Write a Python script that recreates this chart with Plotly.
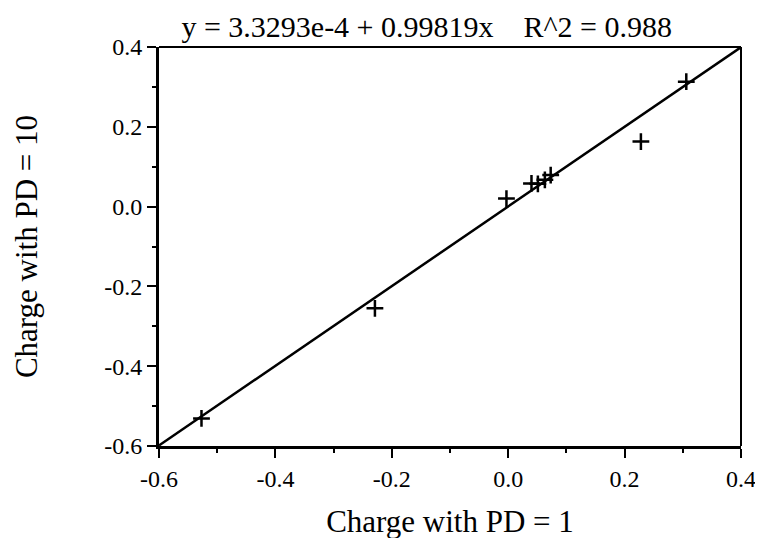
import plotly.graph_objects as go

# Data
x_pd1 = [-0.527, -0.229, -0.003, 0.040, 0.051, 0.063, 0.073, 0.228, 0.306]
y_pd10 = [-0.531, -0.255, 0.020, 0.058, 0.057, 0.067, 0.079, 0.163, 0.313]
fit_intercept = 3.3293e-4
fit_slope = 0.99819
fit_x = [-0.6, 0.4]
fit_y = [fit_intercept + fit_slope * v for v in fit_x]

tick_vals = [-0.6, -0.4, -0.2, 0.0, 0.2, 0.4]
tick_text = ["-0.6", "-0.4", "-0.2", "0.0", "0.2", "0.4"]

title_text = "y = 3.3293e-4 + 0.99819x    R^2 = 0.988"
font_family = "Liberation Serif, Times New Roman, serif"

fig = go.Figure()
fig.add_trace(go.Scatter(x=fit_x, y=fit_y, mode="lines",
                         line=dict(color="black", width=2.5), showlegend=False))
fig.add_trace(go.Scatter(x=x_pd1, y=y_pd10, mode="markers",
                         marker=dict(symbol="cross-thin", size=12,
                                     line=dict(color="black", width=2.5)),
                         showlegend=False))

axis_common = dict(
    range=[-0.6, 0.4], tickmode="array", tickvals=tick_vals, ticktext=tick_text,
    showgrid=False, zeroline=False,
    showline=True, linecolor="black", linewidth=3,
    ticks="outside", ticklen=9, tickwidth=2, tickcolor="black",
    minor=dict(dtick=0.1, tick0=-0.6, ticks="outside", ticklen=4, tickwidth=2, tickcolor="black"),
    tickfont=dict(family=font_family, size=24, color="black"),
)

fig.update_xaxes(**axis_common,
                 title=dict(text="Charge with PD = 1", standoff=20,
                            font=dict(family=font_family, size=31, color="black")))
fig.update_yaxes(**axis_common,
                 title=dict(text="Charge with PD = 10", standoff=58,
                            font=dict(family=font_family, size=31, color="black")))

# thin top and right frame lines
fig.add_shape(type="line", xref="paper", yref="paper", x0=0, x1=1, y0=1, y1=1,
              line=dict(color="black", width=2))
fig.add_shape(type="line", xref="paper", yref="paper", x0=1, x1=1, y0=0, y1=1,
              line=dict(color="black", width=2))

fig.update_layout(
    width=763, height=538,
    margin=dict(l=151, r=30, t=39, b=100),
    plot_bgcolor="white", paper_bgcolor="white",
    title=dict(text=title_text, xref="paper", x=0.46, xanchor="center",
               y=0.966, yanchor="middle",
               font=dict(family=font_family, size=30, color="black")),
)

fig.write_html("out.html")
